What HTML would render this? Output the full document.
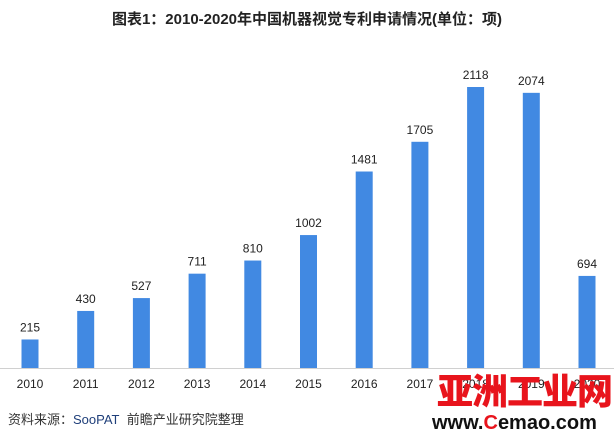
<!DOCTYPE html>
<html><head><meta charset="utf-8"><style>
body{margin:0;background:#fff;width:614px;height:439px;overflow:hidden;position:relative;font-family:"Liberation Sans","Noto Sans CJK SC",sans-serif}
#title{position:absolute;top:8px;left:0;width:614px;text-align:center;font-weight:bold;font-size:15px;color:#222}
#src{position:absolute;left:8px;top:409px;font-size:13px;color:#333}
#logo{position:absolute;left:437px;top:369px;font-size:36px;font-weight:900;color:#e8141c;letter-spacing:-1px;font-family:"Noto Sans CJK SC",sans-serif;line-height:40px}
#url{position:absolute;left:432px;top:411px;font-size:20px;font-weight:bold;color:#111;line-height:24px}
</style></head><body>
<div id="title">图表1：2010-2020年中国机器视觉专利申请情况(单位：项)</div>
<svg id="chart" width="614" height="439" style="position:absolute;left:0;top:0"></svg>
<div id="src">资料来源：<span style="color:#1f3f7a">SooPAT</span>&nbsp;&nbsp;前瞻产业研究院整理</div>
<div id="logo">亚洲工业网</div>
<div id="url">www.<span style="color:#e8141c">C</span>emao.com</div>
<script>
const categories=["2010","2011","2012","2013","2014","2015","2016","2017","2018","2019","2020"];
const values=[215,430,527,711,810,1002,1481,1705,2118,2074,694];
const labels=["215","430","527","711","810","1002","1481","1705","2118","2074","694"];
const svg=document.getElementById('chart');
const NS='http://www.w3.org/2000/svg';
const x0=30,step=55.7,base=368,scale=281/2118,bw=17;
function xs(i){return x0+i*step;}
function ys(v){return base-v*scale;}
const ax=document.createElementNS(NS,'line');
ax.setAttribute('x1',0);ax.setAttribute('x2',614);ax.setAttribute('y1',base+0.5);ax.setAttribute('y2',base+0.5);
ax.setAttribute('stroke','#d0d0d0');


svg.appendChild(ax);
values.forEach((v,i)=>{
 const r=document.createElementNS(NS,'rect');
 r.setAttribute('x',xs(i)-bw/2);r.setAttribute('y',ys(v));r.setAttribute('width',bw);r.setAttribute('height',base-ys(v));r.setAttribute('fill','#4189e2');
 
 
 svg.appendChild(r);
 const t=document.createElementNS(NS,'text');
 t.setAttribute('x',xs(i));t.setAttribute('y',ys(v)-8);t.setAttribute('text-anchor','middle');t.setAttribute('font-size','12');t.setAttribute('fill','#222');
 t.textContent=labels[i];
 
 
 svg.appendChild(t);
 const c=document.createElementNS(NS,'text');
 c.setAttribute('x',xs(i));c.setAttribute('y',base+20);c.setAttribute('text-anchor','middle');c.setAttribute('font-size','12');c.setAttribute('fill','#222');
 c.textContent=categories[i];
 
 
 svg.appendChild(c);
});
</script>
</body></html>
